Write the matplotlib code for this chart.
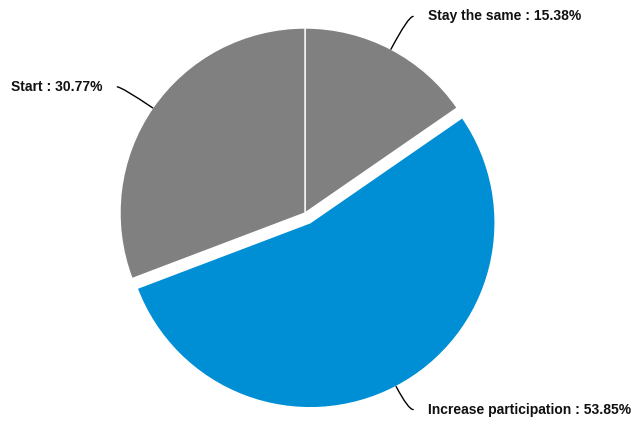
import numpy as np
import matplotlib
matplotlib.use("Agg")
import matplotlib.pyplot as plt

plt.rcParams['font.family'] = ['Liberation Sans', 'DejaVu Sans']

labels = ['Stay the same', 'Increase participation', 'Start']
values = [15.38, 53.85, 30.77]
colors = ['#808080', '#008fd5', '#808080']

W, H = 635, 424
cx, cy, r = 305, H - 213, 185
explode = [0, 11, 0]  # pie explode is in data units here (pixels)

fig = plt.figure(figsize=(W / 100, H / 100), dpi=100)
ax = fig.add_axes([0, 0, 1, 1])
wedges, _ = ax.pie(values, colors=colors, explode=explode, startangle=90,
                   counterclock=False, center=(cx, cy), radius=r,
                   wedgeprops=dict(edgecolor='white', linewidth=1),
                   frame=True)
ax.set_xlim(0, W)
ax.set_ylim(0, H)
ax.set_aspect('equal')
ax.axis('off')

R = 222
for w, lab, val in zip(wedges, labels, values):
    ang = np.deg2rad((w.theta1 + w.theta2) / 2)
    wx, wy = w.center
    ex, ey = wx + r * np.cos(ang), wy + r * np.sin(ang)
    sgn = 1 if np.cos(ang) >= 0 else -1
    lx = cx + R * np.cos(ang) + sgn * 5
    ly = cy + R * np.sin(ang)
    ax.annotate('', xy=(ex, ey), xytext=(lx, ly),
                arrowprops=dict(arrowstyle='-', color='black', lw=1,
                                shrinkA=0, shrinkB=0,
                                connectionstyle='angle3,angleA=0,angleB=%d' % np.degrees(ang)))
    ax.text(lx + sgn * 15, ly, f'{lab} : {val:.2f}%',
            ha='left' if sgn > 0 else 'right', va='center',
            fontsize=10, fontweight='bold', color='#111111')

fig.savefig('out.png', dpi=100)
